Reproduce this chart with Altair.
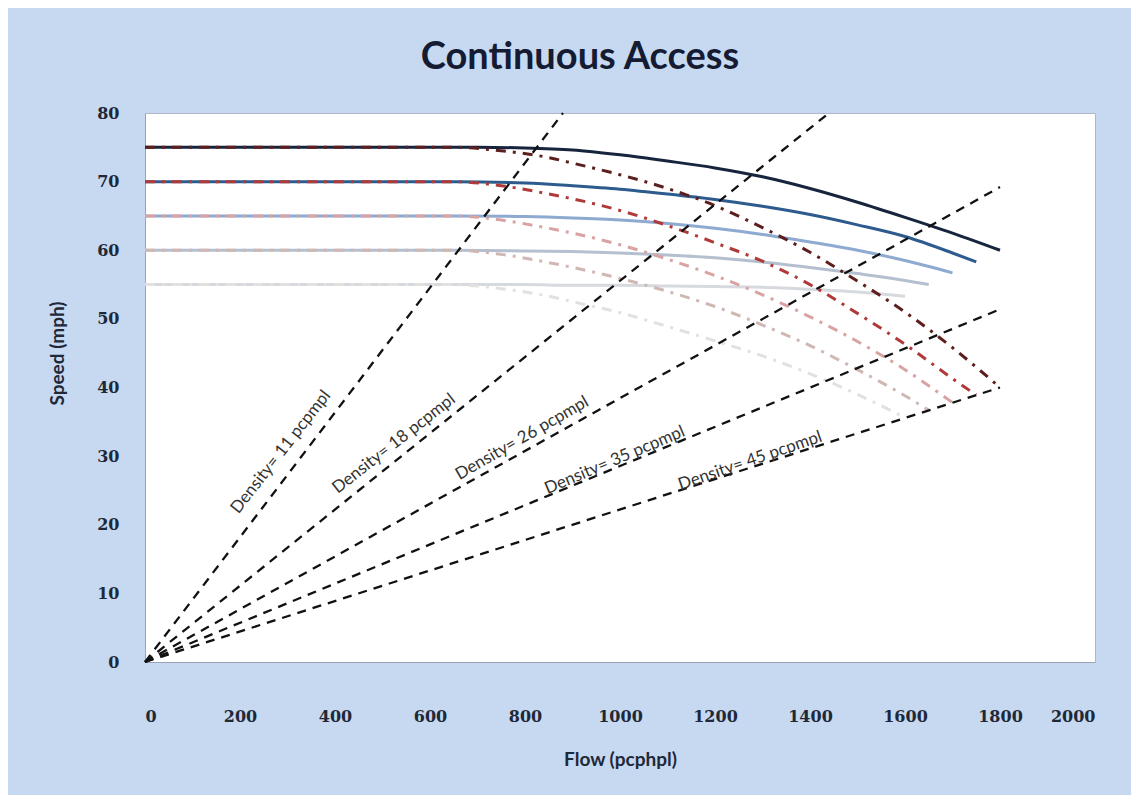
import altair as alt
import pandas as pd

# ---- solid speed-flow curves (flow pcphpl, speed mph) ----
ffs75_solid_flow = [0, 700, 800, 900, 1000, 1100, 1200, 1300, 1400, 1500, 1600, 1700, 1800]
ffs75_solid_speed = [75, 75, 74.9, 74.6, 73.9, 73.0, 72.0, 70.7, 69.0, 67.0, 64.8, 62.5, 60.0]
ffs70_solid_flow = [0, 650, 800, 900, 1000, 1100, 1200, 1300, 1400, 1500, 1600, 1700, 1750]
ffs70_solid_speed = [70, 70, 69.8, 69.4, 68.9, 68.2, 67.4, 66.4, 65.2, 63.7, 62.0, 59.6, 58.3]
ffs65_solid_flow = [0, 650, 800, 900, 1000, 1100, 1200, 1300, 1400, 1500, 1600, 1700]
ffs65_solid_speed = [65, 65, 64.9, 64.7, 64.4, 63.9, 63.2, 62.3, 61.2, 60.0, 58.5, 56.7]
ffs60_solid_flow = [0, 650, 800, 900, 1000, 1100, 1200, 1300, 1400, 1500, 1600, 1650]
ffs60_solid_speed = [60, 60, 59.9, 59.8, 59.6, 59.3, 58.9, 58.3, 57.5, 56.6, 55.6, 55.0]
ffs55_solid_flow = [0, 650, 800, 900, 1000, 1100, 1200, 1300, 1400, 1500, 1600]
ffs55_solid_speed = [55, 55, 55.0, 54.9, 54.9, 54.8, 54.7, 54.6, 54.3, 53.9, 53.3]

# ---- dash-dot curves ----
ffs75_dd_flow = [0, 650, 750, 850, 900, 1000, 1100, 1200, 1300, 1400, 1500, 1600, 1700, 1800]
ffs75_dd_speed = [75, 75, 74.5, 73.5, 72.7, 71.0, 69.0, 66.5, 63.3, 59.7, 55.5, 51.0, 45.8, 40.0]
ffs70_dd_flow = [0, 650, 750, 850, 900, 1000, 1100, 1200, 1300, 1400, 1500, 1600, 1700, 1750]
ffs70_dd_speed = [70, 70, 69.4, 68.2, 67.5, 65.8, 63.6, 61.1, 58.4, 55.0, 50.8, 46.3, 41.3, 38.9]
ffs65_dd_flow = [0, 650, 750, 850, 900, 1000, 1100, 1200, 1300, 1400, 1500, 1600, 1700]
ffs65_dd_speed = [65, 65, 64.4, 63.2, 62.5, 60.8, 58.7, 56.3, 53.5, 50.3, 46.7, 42.6, 37.8]
ffs60_dd_flow = [0, 650, 750, 850, 900, 1000, 1100, 1200, 1300, 1400, 1500, 1600, 1650]
ffs60_dd_speed = [60, 60, 59.4, 58.2, 57.5, 55.9, 54.0, 51.8, 49.1, 46.1, 42.6, 38.8, 36.7]
ffs55_dd_flow = [0, 650, 750, 850, 900, 1000, 1100, 1200, 1300, 1400, 1500, 1600]
ffs55_dd_speed = [55, 55, 54.4, 53.3, 52.5, 50.9, 48.9, 46.8, 44.6, 42.0, 39.0, 35.6]

# ---- density rays from origin ----
density_names = ["d11", "d18", "d26", "d35", "d45"]
density_end_flow = [880, 1440, 1800, 1800, 1800]
density_end_speed = [80, 80, 69.2, 51.4, 40.0]
density_labels = ["Density= 11 pcpmpl", "Density= 18 pcpmpl", "Density= 26 pcpmpl",
                  "Density= 35 pcpmpl", "Density= 45 pcpmpl"]
label_flow = [286, 524, 794, 989, 1274]
label_speed = [30.6, 31.8, 32.6, 29.4, 29.3]
label_angle = [308, 322, 330, 337, 341]

solid_names = ["s75", "s70", "s65", "s60", "s55"]
solid_colors = ["#17243D", "#2D5B8E", "#8EAAD0", "#B4C0CF", "#D6D9DD"]
dd_names = ["dd75", "dd70", "dd65", "dd60", "dd55"]
dd_colors = ["#5C1F1E", "#B03A3A", "#D9A3A3", "#CFB8B4", "#E3E0E0"]


def frame(name, flows, speeds, order):
    return pd.DataFrame({"flow": flows, "speed": speeds, "series": name, "ord": order})


solid_df = pd.concat([
    frame("s75", ffs75_solid_flow, ffs75_solid_speed, 0),
    frame("s70", ffs70_solid_flow, ffs70_solid_speed, 1),
    frame("s65", ffs65_solid_flow, ffs65_solid_speed, 2),
    frame("s60", ffs60_solid_flow, ffs60_solid_speed, 3),
    frame("s55", ffs55_solid_flow, ffs55_solid_speed, 4),
])
dd_df = pd.concat([
    frame("dd75", ffs75_dd_flow, ffs75_dd_speed, 0),
    frame("dd70", ffs70_dd_flow, ffs70_dd_speed, 1),
    frame("dd65", ffs65_dd_flow, ffs65_dd_speed, 2),
    frame("dd60", ffs60_dd_flow, ffs60_dd_speed, 3),
    frame("dd55", ffs55_dd_flow, ffs55_dd_speed, 4),
])
dens_rows = []
for n, f, s in zip(density_names, density_end_flow, density_end_speed):
    dens_rows.append({"flow": 0, "speed": 0, "series": n})
    dens_rows.append({"flow": f, "speed": s, "series": n})
dens_df = pd.DataFrame(dens_rows)
label_df = pd.DataFrame({"flow": label_flow, "speed": label_speed,
                         "text": density_labels, "angle": label_angle})

x_enc = alt.X("flow:Q", scale=alt.Scale(domain=[0, 2000], nice=False),
              axis=alt.Axis(title="Flow (pcphpl)", values=list(range(0, 2001, 200)), format="d",
                            grid=False, ticks=False, domainColor="#9AA4B4",
                            labelFont="DejaVu Serif", labelFontWeight="bold", labelFontSize=16,
                            labelColor="#1E2838", labelPadding=46,
                            titleFont="Lato", titleFontWeight="bold", titleFontSize=19,
                            titleColor="#1E2838", titlePadding=26))
y_enc = alt.Y("speed:Q", scale=alt.Scale(domain=[0, 80], nice=False),
              axis=alt.Axis(title="Speed (mph)", values=list(range(0, 81, 10)), format="d",
                            grid=False, ticks=False, domainColor="#9AA4B4",
                            labelFont="DejaVu Serif", labelFontWeight="bold", labelFontSize=16,
                            labelColor="#1E2838", labelPadding=26,
                            titleFont="Lato", titleFontWeight="bold", titleFontSize=19,
                            titleColor="#1E2838", titleX=-78, titleY=240))

solid = alt.Chart(solid_df).mark_line(strokeWidth=3, interpolate="monotone").encode(
    x=x_enc, y=y_enc,
    color=alt.Color("series:N", scale=alt.Scale(domain=solid_names, range=solid_colors), legend=None),
    order=alt.Order("ord:Q"),
)
dashdot = alt.Chart(dd_df).mark_line(strokeWidth=3, interpolate="monotone",
                                     strokeDash=[10, 7, 3, 7]).encode(
    x=x_enc, y=y_enc,
    color=alt.Color("series:N", scale=alt.Scale(domain=dd_names, range=dd_colors), legend=None),
)
density = alt.Chart(dens_df).mark_line(strokeWidth=2.3, color="#111111",
                                       strokeDash=[9, 7]).encode(
    x=x_enc, y=y_enc, detail="series:N",
)
labels = alt.Chart(label_df).mark_text(font="Lato", fontSize=17, color="#333333",
                                       align="center", baseline="middle").encode(
    x=x_enc, y=y_enc, text="text:N", angle=alt.Angle("angle:Q", scale=None),
)

chart = alt.layer(solid, dashdot, density, labels).resolve_scale(color="independent").properties(
    width=950, height=549,
    title=alt.TitleParams("Continuous Access", font="Lato", fontSize=38, fontWeight="bold",
                          color="#141B33", anchor="middle", dx=-40, offset=28),
    background="#C6D9F0",
    padding={"left": 137, "top": 105, "right": 36, "bottom": 133},
    autosize=alt.AutoSizeParams(type="none"),
).configure_view(fill="white", stroke="#AEB8C8", strokeWidth=1)

chart.save("out.html", embed_options={"renderer": "svg", "actions": False})
